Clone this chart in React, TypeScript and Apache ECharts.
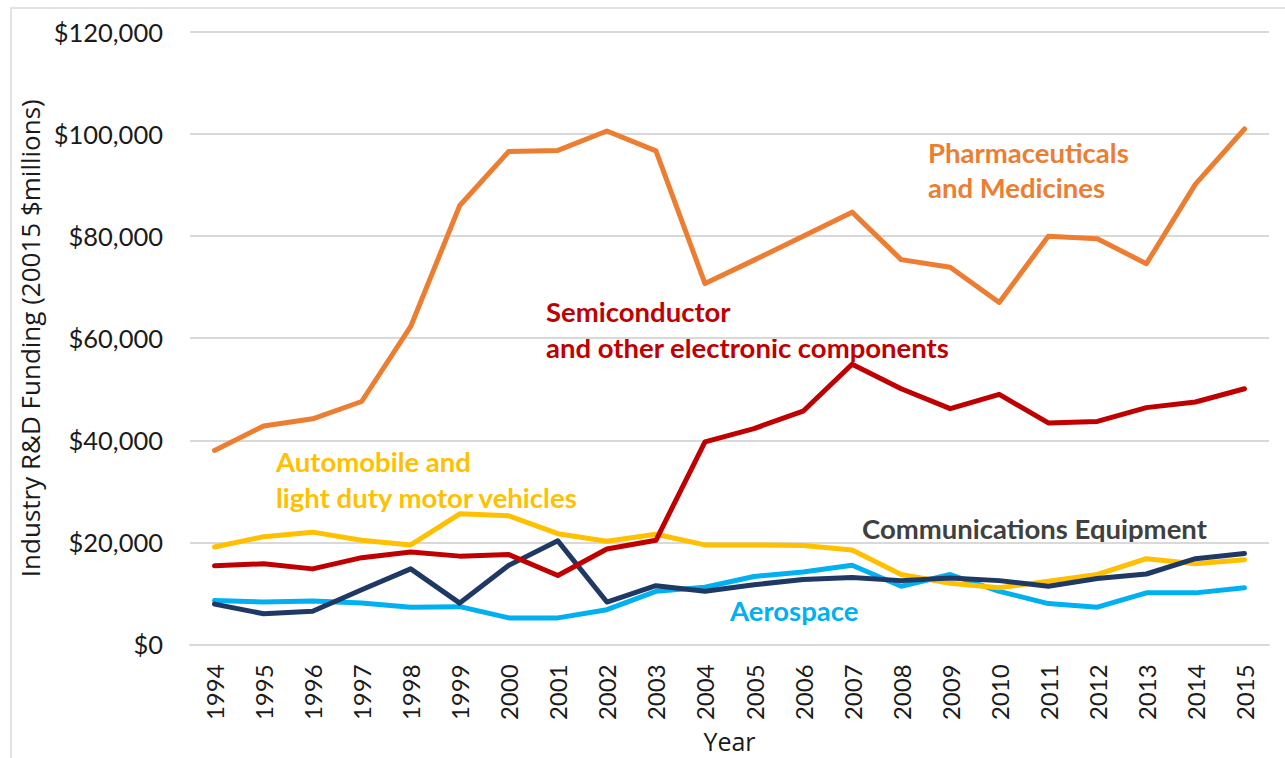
import React, { useEffect, useRef } from "react";
import * as echarts from "echarts";

const years = ["1994","1995","1996","1997","1998","1999","2000","2001","2002","2003","2004","2005","2006","2007","2008","2009","2010","2011","2012","2013","2014","2015"];
const pharma = [38000,42800,44200,47600,62300,86000,96600,96800,100600,96700,70700,75300,80000,84700,75400,73900,67000,80000,79500,74600,90200,101000];
const semi = [15400,15800,14800,17000,18100,17300,17600,13500,18700,20400,39700,42300,45700,54900,50100,46200,49000,43400,43700,46400,47500,50100];
const auto = [19100,21100,22000,20400,19500,25600,25200,21700,20200,21600,19500,19500,19400,18500,13700,12000,11100,12400,13700,16800,15800,16600];
const comm = [7900,6000,6500,10700,14800,8100,15500,20300,8300,11500,10400,11700,12700,13100,12500,13000,12500,11400,12900,13800,16800,17800];
const aero = [8600,8300,8500,8100,7300,7400,5200,5200,6800,10400,11200,13300,14200,15500,11400,13700,10400,8000,7300,10100,10100,11100];
const yTicks = [0, 20000, 40000, 60000, 80000, 100000, 120000];

const annoFont = "Lato";

export default function App() {
  const ref = useRef<HTMLDivElement>(null);
  useEffect(() => {
    if (!ref.current) return;
    const chart = echarts.init(ref.current, null, { renderer: "svg" });
    const mk = (name: string, data: number[], color: string) => ({
      name, type: "line", data, symbol: "none", smooth: false,
      lineStyle: { color, width: 5, cap: "round", join: "round" },
      itemStyle: { color },
    });
    const txt = (x: number, y: number, text: string, color: string) => ({
      type: "text", x, y,
      style: { text, fill: color, font: `bold 27.5px ${annoFont}`, textVerticalAlign: "middle" },
    });
    chart.setOption({
      animation: false,
      backgroundColor: "#ffffff",
      grid: { left: 190, width: 1079, top: 32, height: 619, containLabel: false },
      xAxis: {
        type: "category", data: years, boundaryGap: true,
        name: "Year", nameLocation: "middle", nameGap: 78,
        nameTextStyle: { fontFamily: "Open Sans", fontSize: 25, color: "#1a1a1a" },
        axisLine: { show: true, lineStyle: { color: "#d9d9d9", width: 2 } },
        axisTick: { show: false },
        axisLabel: { rotate: 90, margin: 20, fontFamily: "Lato", fontSize: 24, color: "#1a1a1a" },
      },
      yAxis: {
        type: "value", min: yTicks[0], max: yTicks[yTicks.length - 1], interval: 20000,
        name: "Industry R&D Funding (20015 $millions)", nameLocation: "middle", nameGap: 144, nameRotate: 90,
        nameTextStyle: { fontFamily: "Open Sans", fontSize: 26, color: "#1a1a1a" },
        axisLine: { show: false }, axisTick: { show: false },
        splitLine: { lineStyle: { color: "#d9d9d9", width: 2 } },
        axisLabel: {
          margin: 27, fontFamily: "Lato", fontSize: 25.5, color: "#1a1a1a",
          formatter: (v: number) => "$" + v.toLocaleString("en-US"),
        },
      },
      graphic: [
        { type: "rect", shape: { x: 11, y: 8, width: 1290, height: 780 }, style: { fill: "none", stroke: "#d9d9d9", lineWidth: 1.5 }, silent: true },
        txt(928, 152, "Pharmaceuticals", "#ED7D31"),
        txt(928, 187, "and Medicines", "#ED7D31"),
        txt(546, 311, "Semiconductor", "#C00000"),
        txt(546, 347, "and other electronic components", "#C00000"),
        txt(276, 461, "Automobile and", "#FFC000"),
        txt(276, 497, "light duty motor vehicles", "#FFC000"),
        txt(862, 528, "Communications Equipment", "#404040"),
        txt(730, 610, "Aerospace", "#00B0F0"),
      ],
      series: [
        mk("Aerospace", aero, "#00B0F0"),
        mk("Automobile", auto, "#FFC000"),
        mk("Communications Equipment", comm, "#1F3864"),
        mk("Semiconductor", semi, "#C00000"),
        mk("Pharmaceuticals", pharma, "#ED7D31"),
      ],
    });
    return () => chart.dispose();
  }, []);
  return <div ref={ref} style={{ position: "fixed", left: 0, top: 0, width: 1285, height: 758 }} />;
}
